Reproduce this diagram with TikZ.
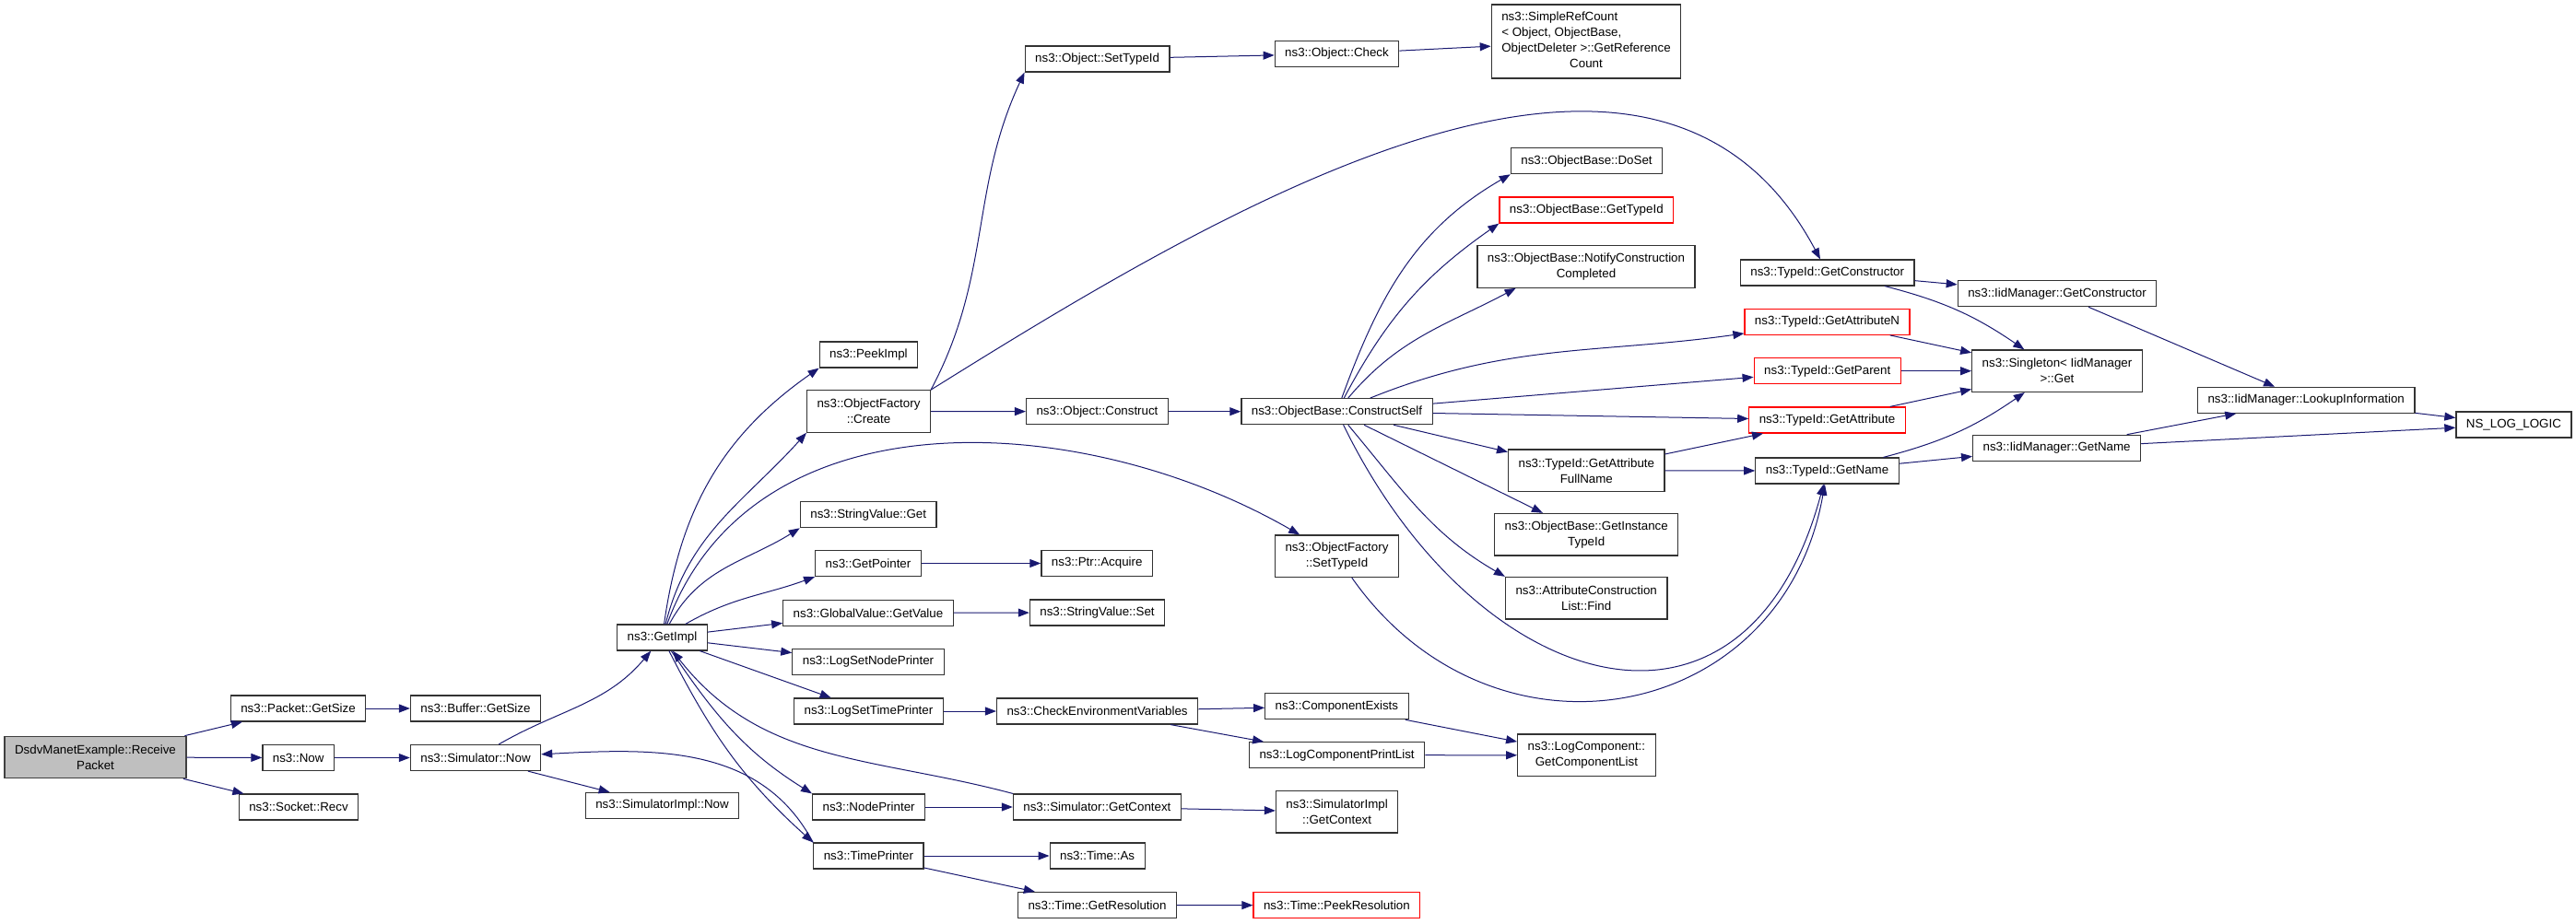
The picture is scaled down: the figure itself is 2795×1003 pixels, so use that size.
\documentclass[tikz,border=0pt]{standalone}
\usepackage{fontspec}
\setmainfont{Liberation Sans}
\usepackage{tikz}
\usetikzlibrary{arrows.meta,shapes,positioning}
\definecolor{edgeblue}{RGB}{25,25,112}
\tikzset{
  fn/.style={rectangle, draw=black!80, line width=1.2pt, fill=white,
    inner xsep=11pt, inner ysep=0pt, minimum height=28pt, align=center,
    font=\fontsize{13.33}{17}\selectfont},
  fntwo/.style={fn, minimum height=45.5pt},
  fnred/.style={fn, draw=red},
}

\begin{document}
\begin{tikzpicture}[->, >={Triangle[length=12pt,width=9pt]}, x=1pt, y=1pt,
    every edge/.append style={draw=edgeblue, line width=1pt}]
  \useasboundingbox (0,0) rectangle (2795,-1003);

  % caller and first calls
  \node [fntwo, fill=black!25, draw=black!75] (dsdv) at (103.5,-822) {DsdvManetExample::Receive\\Packet};
  \node [fn] (pktsize) at (323.5,-769) {ns3::Packet::GetSize};
  \node [fn] (now) at (323.7,-822.5) {ns3::Now};
  \node [fn] (recv) at (324,-876) {ns3::Socket::Recv};
  \node [fn] (bufsize) at (516,-769) {ns3::Buffer::GetSize};
  \node [fn] (simnow) at (516,-822.5) {ns3::Simulator::Now};
  \node [fn] (getimpl) at (718.5,-692) {ns3::GetImpl};
  \node [fn] (implnow) at (718.5,-874.5) {ns3::SimulatorImpl::Now};

  % called by GetImpl
  \node [fn] (peekimpl) at (942.4,-385) {ns3::PeekImpl};
  \node [fntwo] (create) at (942.5,-446.5) {ns3::ObjectFactory\\::Create};
  \node [fn] (svget) at (942.2,-558.7) {ns3::StringValue::Get};
  \node [fn] (getptr) at (942,-611.5) {ns3::GetPointer};
  \node [fn] (getvalue) at (942,-665.3) {ns3::GlobalValue::GetValue};
  \node [fn] (setnode) at (942,-718.3) {ns3::LogSetNodePrinter};
  \node [fn] (settime) at (942.5,-772) {ns3::LogSetTimePrinter};
  \node [fn] (nodeprinter) at (942.6,-876) {ns3::NodePrinter};
  \node [fn] (timeprinter) at (942.4,-929) {ns3::TimePrinter};

  \node [fn] (settypeid) at (1190.6,-64) {ns3::Object::SetTypeId};
  \node [fn] (construct) at (1190.5,-446.7) {ns3::Object::Construct};
  \node [fn] (acquire) at (1190.2,-611.5) {ns3::Ptr::Acquire};
  \node [fn] (svset) at (1190.5,-665) {ns3::StringValue::Set};
  \node [fn] (checkenv) at (1190.6,-772) {ns3::CheckEnvironmentVariables};
  \node [fn] (getcontext) at (1190.4,-876) {ns3::Simulator::GetContext};
  \node [fn] (timeas) at (1190.6,-929) {ns3::Time::As};
  \node [fn] (getres) at (1190.5,-982.5) {ns3::Time::GetResolution};

  \node [fn] (check) at (1450.5,-58.5) {ns3::Object::Check};
  \node [fn] (constructself) at (1450.5,-446.7) {ns3::ObjectBase::ConstructSelf};
  \node [fntwo] (facsettypeid) at (1450.5,-603.8) {ns3::ObjectFactory\\::SetTypeId};
  \node [fn] (compexists) at (1450.4,-766.7) {ns3::ComponentExists};
  \node [fn] (printlist) at (1450.6,-819.7) {ns3::LogComponentPrintList};
  \node [fntwo] (implcontext) at (1450.6,-881.3) {ns3::SimulatorImpl\\::GetContext};
  \node [fnred] (peekres) at (1450.4,-982.7) {ns3::Time::PeekResolution};

  % ObjectBase and TypeId
  \node [fn, minimum height=80pt] (refcount) at (1721,-45)
    {\begin{tabular}{@{}l@{}}ns3::SimpleRefCount\\< Object, ObjectBase,\\
     \multicolumn{1}{@{}c@{}}{ObjectDeleter >::GetReference}\\
     \multicolumn{1}{@{}c@{}}{Count}\end{tabular}};
  \node [fn] (doset) at (1721.5,-174.7) {ns3::ObjectBase::DoSet};
  \node [fnred] (basetypeid) at (1721.3,-228) {ns3::ObjectBase::GetTypeId};
  \node [fntwo] (notify) at (1721,-289.5) {ns3::ObjectBase::NotifyConstruction\\Completed};
  \node [fntwo] (fullname) at (1721.3,-510.8) {ns3::TypeId::GetAttribute\\FullName};
  \node [fntwo] (insttypeid) at (1721.2,-580.2) {ns3::ObjectBase::GetInstance\\TypeId};
  \node [fntwo] (find) at (1721.2,-649.2) {ns3::AttributeConstruction\\List::Find};
  \node [fntwo] (complist) at (1721.4,-819.8) {ns3::LogComponent::\\GetComponentList};

  \node [fn] (getctor) at (1982.7,-296) {ns3::TypeId::GetConstructor};
  \node [fnred] (getattrn) at (1982.5,-349.3) {ns3::TypeId::GetAttributeN};
  \node [fnred] (getparent) at (1982.7,-402.7) {ns3::TypeId::GetParent};
  \node [fnred] (getattr) at (1982.5,-456) {ns3::TypeId::GetAttribute};
  \node [fn] (getname) at (1982.5,-511) {ns3::TypeId::GetName};

  \node [fn] (iidctor) at (2232,-318.7) {ns3::IidManager::GetConstructor};
  \node [fntwo] (singleton) at (2232,-402.7) {ns3::Singleton< IidManager\\ >::Get};
  \node [fn] (iidname) at (2231.6,-486.3) {ns3::IidManager::GetName};
  \node [fn] (lookup) at (2502.2,-434.3) {ns3::IidManager::LookupInformation};
  \node [fn] (nslog) at (2727.4,-461) {NS\_LOG\_LOGIC};

  % calls
  \path (dsdv) edge (pktsize)
        (dsdv) edge (now)
        (dsdv) edge (recv)
        (pktsize) edge (bufsize)
        (now) edge (simnow)
        (simnow) edge [out=30, in=-130] (getimpl)
        (simnow) edge (implnow)
        (timeprinter.north west) edge [out=118, in=3] (simnow);

  \path (getimpl) edge [out=82, in=-145] (peekimpl.south west)
        (getimpl) edge [out=76, in=-132] (create.south west)
        (getimpl) edge [out=70, in=150] (facsettypeid)
        (getimpl) edge [out=62, in=-148] (svget.south west)
        (getimpl) edge [out=30, in=-160] (getptr.south west)
        (getimpl) edge (getvalue)
        (getimpl) edge (setnode)
        (getimpl) edge (settime)
        (getimpl) edge [out=-56, in=148] (nodeprinter.north west)
        (getimpl) edge [out=-63, in=138] (timeprinter.north west)
        (getcontext.north west) edge [out=165, in=-52] (getimpl);

  \path (create.north east) edge [out=62, in=-115] (settypeid.south west)
        (create.north east) edge [out=32, in=118] (getctor)
        (create) edge (construct)
        (settypeid) edge (check)
        (check) edge (refcount)
        (getvalue) edge (svset)
        (getptr) edge (acquire)
        (settime) edge (checkenv)
        (checkenv) edge (compexists)
        (checkenv) edge (printlist)
        (compexists) edge (complist)
        (printlist) edge (complist)
        (nodeprinter) edge (getcontext)
        (getcontext) edge (implcontext)
        (timeprinter) edge (timeas)
        (timeprinter) edge (getres)
        (getres) edge (peekres);

  \path (construct) edge (constructself)
        (constructself) edge [out=70, in=-150] (doset.south west)
        (constructself) edge [out=62, in=-145] (basetypeid.south west)
        (constructself) edge [out=50, in=-152] (notify.197)
        (constructself) edge [out=22, in=-172] (getattrn)
        (constructself) edge (getparent)
        (constructself) edge (getattr)
        (constructself) edge (fullname)
        (constructself) edge (insttypeid)
        (constructself) edge [out=-50, in=150] (find.north west)
        (constructself) edge [out=-64, in=-105, looseness=1.6] (getname)
        (facsettypeid) edge [out=-55, in=-100, looseness=1.3] (getname)
        (fullname) edge (getattr)
        (fullname) edge (getname);

  \path (getctor) edge (iidctor)
        (getctor) edge [bend left=10] (singleton)
        (getattrn) edge (singleton)
        (getparent) edge (singleton)
        (getattr) edge (singleton)
        (getname) edge [bend right=10] (singleton)
        (getname) edge (iidname)
        (iidctor) edge (lookup)
        (iidname) edge (lookup)
        (iidname) edge (nslog)
        (lookup) edge (nslog);
\end{tikzpicture}
\end{document}
